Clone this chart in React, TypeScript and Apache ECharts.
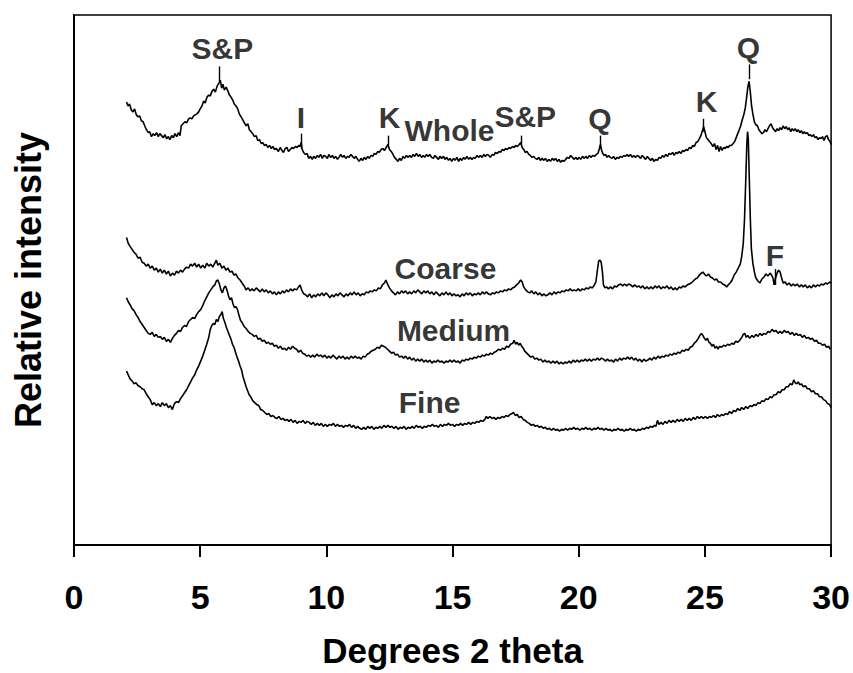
import React, { useEffect, useRef } from "react";
import * as echarts from "echarts";

// X-ray diffraction traces: [degrees 2 theta, relative intensity (arbitrary units)]
const whole: number[][] = [[2.08,448],[2.14,444],[2.2,446],[2.27,440],[2.34,438],[2.4,441],[2.47,435],[2.54,433],[2.6,434],[2.67,429],[2.74,428],[2.8,424],[2.87,420],[2.94,417],[3.0,418],[3.07,413],[3.14,416],[3.2,414],[3.27,417],[3.34,413],[3.4,416],[3.47,414],[3.54,412],[3.6,415],[3.67,411],[3.74,413],[3.8,410],[3.87,414],[3.94,412],[4.0,416],[4.07,413],[4.14,417],[4.2,414],[4.25,424],[4.32,426],[4.4,428],[4.47,427],[4.54,431],[4.6,432],[4.67,431],[4.74,434],[4.8,435],[4.87,436],[4.94,438],[5.0,441],[5.07,444],[5.14,449],[5.2,447],[5.27,453],[5.34,455],[5.4,454],[5.47,459],[5.54,461],[5.6,458],[5.67,464],[5.74,467],[5.8,470],[5.85,462],[5.9,466],[5.96,460],[6.03,463],[6.1,459],[6.16,455],[6.22,453],[6.29,450],[6.35,446],[6.42,444],[6.49,441],[6.55,436],[6.62,433],[6.69,430],[6.75,427],[6.82,424],[6.89,426],[6.95,420],[7.02,418],[7.08,416],[7.15,413],[7.22,414],[7.28,409],[7.35,410],[7.42,406],[7.48,407],[7.55,404],[7.62,405],[7.68,402],[7.75,404],[7.82,401],[7.88,403],[7.95,400],[8.02,401],[8.1,398],[8.17,402],[8.24,399],[8.3,397],[8.37,401],[8.44,402],[8.5,398],[8.57,400],[8.64,402],[8.7,401],[8.77,403],[8.84,402],[8.9,404],[8.96,403],[9.0,407],[9.04,400],[9.1,397],[9.17,395],[9.24,396],[9.3,391],[9.37,393],[9.44,390],[9.5,393],[9.57,391],[9.64,394],[9.7,392],[9.77,395],[9.84,391],[9.9,394],[9.97,393],[10.04,391],[10.1,395],[10.17,392],[10.24,394],[10.3,391],[10.37,393],[10.44,390],[10.5,392],[10.57,395],[10.64,392],[10.7,394],[10.77,391],[10.84,393],[10.9,392],[10.97,395],[11.04,393],[11.1,391],[11.17,393],[11.24,390],[11.3,388],[11.37,391],[11.44,389],[11.5,392],[11.57,390],[11.64,393],[11.7,391],[11.77,394],[11.84,393],[11.9,396],[11.97,395],[12.04,398],[12.1,397],[12.17,400],[12.24,401],[12.3,399],[12.37,402],[12.44,405],[12.5,400],[12.57,398],[12.64,395],[12.7,392],[12.77,390],[12.84,388],[12.9,391],[12.97,389],[13.04,393],[13.1,391],[13.17,394],[13.24,392],[13.3,394],[13.37,392],[13.44,395],[13.5,393],[13.57,396],[13.64,393],[13.7,395],[13.77,392],[13.84,394],[13.9,392],[13.97,395],[14.04,393],[14.1,395],[14.17,392],[14.24,391],[14.3,394],[14.37,392],[14.44,390],[14.5,393],[14.57,391],[14.64,393],[14.7,390],[14.77,392],[14.84,389],[14.9,391],[14.97,388],[15.04,391],[15.1,389],[15.17,392],[15.24,388],[15.3,391],[15.37,389],[15.44,392],[15.5,390],[15.57,393],[15.64,390],[15.7,392],[15.77,390],[15.84,392],[15.9,391],[15.97,394],[16.04,392],[16.1,394],[16.17,392],[16.24,395],[16.3,393],[16.37,395],[16.44,394],[16.5,392],[16.57,395],[16.64,394],[16.7,397],[16.77,396],[16.84,398],[16.9,397],[16.97,400],[17.04,399],[17.1,401],[17.17,400],[17.24,402],[17.3,401],[17.37,403],[17.44,402],[17.5,404],[17.57,403],[17.64,405],[17.7,407],[17.76,402],[17.82,400],[17.88,397],[17.95,398],[18.02,395],[18.08,394],[18.15,392],[18.22,393],[18.28,391],[18.35,390],[18.42,392],[18.48,389],[18.55,391],[18.62,389],[18.68,391],[18.75,388],[18.82,390],[18.88,388],[18.95,391],[19.02,389],[19.08,391],[19.15,388],[19.22,390],[19.28,387],[19.35,389],[19.42,388],[19.48,390],[19.55,392],[19.62,391],[19.68,394],[19.75,392],[19.82,390],[19.88,392],[19.95,390],[20.02,392],[20.08,390],[20.15,393],[20.22,391],[20.28,393],[20.35,391],[20.42,394],[20.48,392],[20.55,394],[20.62,393],[20.7,395],[20.76,396],[20.82,401],[20.86,405],[20.9,400],[20.95,396],[21.0,394],[21.06,395],[21.12,392],[21.18,394],[21.25,392],[21.32,391],[21.38,393],[21.45,390],[21.52,392],[21.58,391],[21.65,393],[21.72,392],[21.78,394],[21.85,393],[21.92,395],[21.98,393],[22.05,395],[22.12,392],[22.18,394],[22.25,392],[22.32,394],[22.38,393],[22.45,391],[22.52,394],[22.58,392],[22.65,390],[22.72,393],[22.78,391],[22.85,389],[22.92,391],[22.98,388],[23.05,390],[23.12,389],[23.18,392],[23.25,391],[23.32,394],[23.38,392],[23.45,395],[23.52,393],[23.58,396],[23.65,395],[23.72,397],[23.78,394],[23.85,397],[23.92,396],[23.98,398],[24.05,396],[24.12,399],[24.18,398],[24.25,400],[24.32,399],[24.38,402],[24.45,401],[24.52,404],[24.58,403],[24.65,407],[24.72,408],[24.78,411],[24.84,414],[24.9,419],[24.95,423],[25.0,418],[25.06,412],[25.12,410],[25.18,408],[25.25,406],[25.32,403],[25.38,406],[25.44,400],[25.5,404],[25.56,398],[25.62,403],[25.68,399],[25.74,402],[25.8,401],[25.86,403],[25.92,402],[25.98,404],[26.05,404],[26.12,406],[26.18,408],[26.24,412],[26.3,416],[26.36,420],[26.42,424],[26.48,430],[26.54,435],[26.6,442],[26.65,452],[26.7,463],[26.75,469],[26.8,458],[26.85,444],[26.9,436],[26.96,428],[27.02,425],[27.08,424],[27.14,420],[27.2,418],[27.26,416],[27.32,417],[27.38,420],[27.44,418],[27.5,421],[27.56,424],[27.62,426],[27.68,422],[27.74,420],[27.8,418],[27.86,421],[27.92,419],[27.98,422],[28.04,420],[28.1,424],[28.16,421],[28.22,423],[28.28,420],[28.34,422],[28.4,418],[28.46,421],[28.52,419],[28.58,421],[28.64,418],[28.7,420],[28.76,417],[28.82,419],[28.88,416],[28.94,418],[29.0,416],[29.06,417],[29.12,414],[29.18,415],[29.24,413],[29.3,415],[29.36,412],[29.42,413],[29.48,410],[29.54,412],[29.6,411],[29.66,413],[29.72,409],[29.78,413],[29.84,414],[29.9,410],[29.96,408],[30.0,405]];

const coarse: number[][] = [[2.08,311],[2.15,305],[2.22,302],[2.3,299],[2.38,296],[2.46,294],[2.54,290],[2.62,291],[2.7,286],[2.78,285],[2.86,282],[2.94,284],[3.02,280],[3.1,282],[3.18,278],[3.26,280],[3.34,276],[3.42,279],[3.5,275],[3.58,278],[3.66,274],[3.74,277],[3.82,272],[3.9,275],[3.98,273],[4.06,277],[4.14,275],[4.22,278],[4.3,276],[4.38,279],[4.46,281],[4.54,280],[4.62,284],[4.7,282],[4.78,285],[4.86,281],[4.94,284],[5.02,280],[5.1,283],[5.18,280],[5.26,285],[5.34,282],[5.42,284],[5.5,281],[5.58,285],[5.64,288],[5.7,283],[5.78,285],[5.86,280],[5.94,282],[6.02,278],[6.1,280],[6.18,276],[6.26,277],[6.34,273],[6.42,274],[6.5,270],[6.58,268],[6.66,265],[6.74,262],[6.82,258],[6.9,260],[6.98,257],[7.06,259],[7.14,257],[7.22,260],[7.3,258],[7.38,256],[7.46,259],[7.54,256],[7.62,258],[7.7,255],[7.78,257],[7.86,254],[7.94,256],[8.02,253],[8.1,256],[8.18,254],[8.26,257],[8.34,255],[8.42,258],[8.5,256],[8.58,259],[8.66,257],[8.74,259],[8.82,258],[8.9,261],[8.96,263],[9.02,258],[9.1,254],[9.18,253],[9.26,251],[9.34,254],[9.42,250],[9.5,253],[9.58,251],[9.66,254],[9.74,252],[9.82,255],[9.9,252],[9.98,255],[10.06,253],[10.14,250],[10.22,253],[10.3,251],[10.38,254],[10.46,252],[10.54,255],[10.62,253],[10.7,251],[10.78,254],[10.86,252],[10.94,255],[11.02,253],[11.1,256],[11.18,253],[11.26,255],[11.34,252],[11.42,254],[11.5,253],[11.58,256],[11.66,255],[11.74,257],[11.82,256],[11.9,258],[11.98,257],[12.06,260],[12.14,259],[12.22,263],[12.3,265],[12.36,268],[12.42,264],[12.5,260],[12.58,257],[12.66,255],[12.74,253],[12.82,256],[12.9,254],[12.98,257],[13.06,255],[13.14,257],[13.22,254],[13.3,256],[13.38,254],[13.46,257],[13.54,255],[13.62,258],[13.7,256],[13.78,254],[13.86,257],[13.94,255],[14.02,257],[14.1,254],[14.18,256],[14.26,253],[14.34,256],[14.42,254],[14.5,252],[14.58,255],[14.66,253],[14.74,256],[14.82,253],[14.9,255],[14.98,252],[15.06,254],[15.14,252],[15.22,253],[15.3,251],[15.38,254],[15.46,252],[15.54,255],[15.62,253],[15.7,255],[15.78,252],[15.86,254],[15.94,253],[16.02,255],[16.1,253],[16.18,256],[16.26,254],[16.34,256],[16.42,254],[16.5,253],[16.58,255],[16.66,254],[16.74,256],[16.82,255],[16.9,257],[16.98,256],[17.06,258],[17.14,257],[17.22,259],[17.3,258],[17.38,260],[17.46,261],[17.54,263],[17.62,265],[17.7,268],[17.76,266],[17.82,261],[17.9,258],[17.98,256],[18.06,255],[18.14,257],[18.22,254],[18.3,256],[18.38,253],[18.46,255],[18.54,252],[18.62,254],[18.7,252],[18.78,253],[18.86,255],[18.94,253],[19.02,256],[19.1,254],[19.18,256],[19.26,255],[19.34,257],[19.42,256],[19.5,258],[19.58,257],[19.66,259],[19.74,257],[19.82,258],[19.9,257],[19.98,259],[20.06,257],[20.14,259],[20.22,258],[20.3,260],[20.38,259],[20.46,261],[20.54,260],[20.62,263],[20.68,266],[20.74,278],[20.79,287],[20.84,288],[20.89,286],[20.94,276],[20.98,263],[21.04,260],[21.1,261],[21.18,259],[21.26,261],[21.34,259],[21.42,262],[21.5,261],[21.58,263],[21.66,264],[21.74,262],[21.82,264],[21.9,262],[21.98,264],[22.06,263],[22.14,261],[22.22,263],[22.3,261],[22.38,262],[22.46,260],[22.54,262],[22.62,259],[22.7,261],[22.78,259],[22.86,261],[22.94,259],[23.02,262],[23.1,260],[23.18,262],[23.26,259],[23.34,261],[23.42,260],[23.5,262],[23.58,259],[23.66,261],[23.74,258],[23.82,260],[23.9,258],[23.98,261],[24.06,260],[24.14,262],[24.22,261],[24.3,263],[24.38,264],[24.46,265],[24.54,267],[24.62,269],[24.7,270],[24.78,273],[24.86,275],[24.92,276],[24.98,274],[25.06,272],[25.14,274],[25.22,271],[25.3,270],[25.38,268],[25.46,269],[25.54,266],[25.62,266],[25.7,264],[25.78,263],[25.86,261],[25.92,263],[26.0,265],[26.08,268],[26.16,273],[26.24,276],[26.32,280],[26.4,284],[26.46,292],[26.52,305],[26.57,330],[26.62,370],[26.66,405],[26.69,418],[26.72,410],[26.76,370],[26.8,330],[26.84,300],[26.9,285],[26.96,276],[27.02,270],[27.1,267],[27.18,265],[27.26,269],[27.34,271],[27.42,274],[27.5,272],[27.58,275],[27.64,273],[27.7,270],[27.74,263],[27.8,270],[27.86,275],[27.92,278],[27.98,276],[28.04,270],[28.1,265],[28.18,266],[28.26,263],[28.34,265],[28.42,262],[28.5,264],[28.58,262],[28.66,264],[28.74,261],[28.82,263],[28.9,261],[28.98,263],[29.06,260],[29.14,262],[29.22,260],[29.3,263],[29.38,261],[29.46,263],[29.54,262],[29.62,264],[29.7,263],[29.78,265],[29.86,264],[29.94,266],[30.0,265]];

const medium: number[][] = [[2.08,250],[2.15,246],[2.22,243],[2.3,239],[2.38,237],[2.46,233],[2.54,230],[2.62,226],[2.7,223],[2.78,220],[2.86,217],[2.94,214],[3.02,213],[3.1,215],[3.18,211],[3.26,213],[3.34,210],[3.42,211],[3.5,208],[3.58,210],[3.66,206],[3.74,208],[3.82,205],[3.9,209],[3.98,212],[4.06,214],[4.14,217],[4.22,216],[4.3,220],[4.38,222],[4.46,221],[4.54,226],[4.62,228],[4.7,230],[4.78,229],[4.86,233],[4.94,236],[5.02,238],[5.1,242],[5.18,247],[5.26,251],[5.34,255],[5.42,258],[5.5,261],[5.58,263],[5.64,267],[5.7,268],[5.76,264],[5.82,258],[5.88,255],[5.94,260],[6.0,262],[6.06,258],[6.12,252],[6.18,248],[6.24,250],[6.3,244],[6.36,240],[6.42,241],[6.48,238],[6.54,232],[6.6,227],[6.66,225],[6.74,221],[6.82,219],[6.9,216],[6.98,214],[7.06,213],[7.14,211],[7.22,212],[7.3,208],[7.38,209],[7.46,206],[7.54,207],[7.62,204],[7.7,205],[7.78,203],[7.86,204],[7.94,201],[8.02,202],[8.1,199],[8.18,201],[8.26,198],[8.34,199],[8.42,197],[8.5,200],[8.58,198],[8.66,201],[8.74,199],[8.82,198],[8.9,195],[8.98,197],[9.06,194],[9.14,193],[9.22,191],[9.3,192],[9.38,190],[9.46,192],[9.54,190],[9.62,193],[9.7,191],[9.78,192],[9.86,190],[9.94,192],[10.02,189],[10.1,191],[10.18,189],[10.26,192],[10.34,190],[10.42,188],[10.5,191],[10.58,189],[10.66,191],[10.74,188],[10.82,190],[10.9,188],[10.98,191],[11.06,189],[11.14,191],[11.22,189],[11.3,190],[11.38,188],[11.46,191],[11.54,190],[11.62,193],[11.7,194],[11.78,196],[11.86,197],[11.94,198],[12.02,200],[12.1,199],[12.18,202],[12.26,201],[12.34,200],[12.42,198],[12.5,196],[12.58,194],[12.66,195],[12.74,192],[12.82,193],[12.9,190],[12.98,191],[13.06,189],[13.14,191],[13.22,188],[13.3,190],[13.38,187],[13.46,189],[13.54,186],[13.62,188],[13.7,186],[13.78,188],[13.86,185],[13.94,187],[14.02,185],[14.1,187],[14.18,184],[14.26,186],[14.34,185],[14.42,187],[14.5,185],[14.58,186],[14.66,184],[14.74,186],[14.82,185],[14.9,187],[14.98,185],[15.06,187],[15.14,185],[15.22,186],[15.3,184],[15.38,187],[15.46,186],[15.54,188],[15.62,187],[15.7,189],[15.78,188],[15.86,190],[15.94,189],[16.02,191],[16.1,190],[16.18,192],[16.26,191],[16.34,193],[16.42,192],[16.5,194],[16.58,193],[16.66,195],[16.74,196],[16.82,198],[16.9,197],[16.98,199],[17.06,198],[17.14,201],[17.22,200],[17.3,203],[17.38,204],[17.44,207],[17.5,203],[17.56,205],[17.62,202],[17.68,204],[17.74,201],[17.8,199],[17.86,196],[17.94,194],[18.02,192],[18.1,190],[18.18,191],[18.26,188],[18.34,189],[18.42,187],[18.5,188],[18.58,185],[18.66,187],[18.74,185],[18.82,186],[18.9,184],[18.98,186],[19.06,184],[19.14,186],[19.22,183],[19.3,185],[19.38,183],[19.46,185],[19.54,184],[19.62,186],[19.7,184],[19.78,187],[19.86,185],[19.94,187],[20.02,185],[20.1,187],[20.18,186],[20.26,188],[20.34,186],[20.42,188],[20.5,186],[20.58,188],[20.66,187],[20.74,189],[20.82,187],[20.9,189],[20.98,188],[21.06,186],[21.14,188],[21.22,186],[21.3,187],[21.38,185],[21.46,188],[21.54,186],[21.62,189],[21.7,187],[21.78,189],[21.86,188],[21.94,190],[22.02,188],[22.1,190],[22.18,187],[22.26,189],[22.34,186],[22.42,188],[22.5,185],[22.58,188],[22.66,186],[22.74,187],[22.82,189],[22.9,187],[22.98,190],[23.06,188],[23.14,191],[23.22,189],[23.3,191],[23.38,190],[23.46,192],[23.54,191],[23.62,193],[23.7,192],[23.78,194],[23.86,193],[23.94,195],[24.02,194],[24.1,197],[24.18,196],[24.26,198],[24.34,197],[24.42,200],[24.5,201],[24.58,204],[24.66,206],[24.74,209],[24.8,212],[24.86,214],[24.92,212],[24.98,209],[25.04,207],[25.1,209],[25.16,205],[25.22,204],[25.28,201],[25.34,203],[25.4,199],[25.46,201],[25.52,198],[25.58,201],[25.66,200],[25.74,202],[25.82,201],[25.9,203],[25.98,202],[26.06,204],[26.14,203],[26.22,206],[26.3,205],[26.38,207],[26.46,210],[26.52,213],[26.58,214],[26.64,210],[26.7,212],[26.78,209],[26.86,212],[26.94,210],[27.02,213],[27.1,211],[27.18,214],[27.26,212],[27.34,214],[27.42,213],[27.5,216],[27.58,215],[27.66,218],[27.74,216],[27.82,217],[27.9,214],[27.98,216],[28.06,214],[28.14,217],[28.22,215],[28.3,216],[28.38,213],[28.46,215],[28.54,212],[28.62,214],[28.7,212],[28.78,213],[28.86,210],[28.94,212],[29.02,209],[29.1,210],[29.18,208],[29.26,209],[29.34,206],[29.42,207],[29.5,204],[29.58,204],[29.66,202],[29.74,203],[29.82,200],[29.9,201],[29.97,198]];

const fine: number[][] = [[2.08,176],[2.15,172],[2.22,168],[2.3,166],[2.38,163],[2.46,164],[2.54,161],[2.62,160],[2.7,158],[2.78,157],[2.86,153],[2.94,150],[3.02,147],[3.1,142],[3.18,144],[3.26,141],[3.34,143],[3.42,140],[3.5,144],[3.58,141],[3.66,143],[3.74,139],[3.82,141],[3.9,137],[3.98,143],[4.06,145],[4.14,144],[4.22,148],[4.3,151],[4.38,154],[4.46,157],[4.54,161],[4.62,165],[4.7,169],[4.78,172],[4.86,177],[4.94,181],[5.02,186],[5.1,191],[5.18,197],[5.26,203],[5.34,210],[5.4,218],[5.46,222],[5.52,224],[5.58,223],[5.64,228],[5.7,226],[5.76,231],[5.82,233],[5.87,236],[5.92,229],[5.98,225],[6.04,220],[6.1,216],[6.16,212],[6.22,208],[6.28,203],[6.34,200],[6.4,195],[6.46,190],[6.52,186],[6.58,181],[6.64,177],[6.7,170],[6.76,165],[6.82,160],[6.88,156],[6.94,152],[7.0,150],[7.08,146],[7.16,144],[7.24,142],[7.32,141],[7.4,137],[7.48,136],[7.56,134],[7.64,132],[7.72,133],[7.8,130],[7.88,131],[7.96,129],[8.04,128],[8.12,130],[8.2,127],[8.28,128],[8.36,126],[8.44,127],[8.52,125],[8.6,127],[8.68,124],[8.76,126],[8.84,123],[8.92,125],[9.0,124],[9.08,126],[9.16,123],[9.24,125],[9.32,124],[9.4,122],[9.48,124],[9.56,121],[9.64,123],[9.72,121],[9.8,123],[9.88,120],[9.96,122],[10.04,120],[10.12,122],[10.2,121],[10.28,123],[10.36,120],[10.44,122],[10.52,120],[10.6,121],[10.68,119],[10.76,121],[10.84,120],[10.92,122],[11.0,119],[11.08,121],[11.16,118],[11.24,120],[11.32,118],[11.4,117],[11.48,119],[11.56,117],[11.64,120],[11.72,118],[11.8,120],[11.88,117],[11.96,119],[12.04,118],[12.12,120],[12.2,118],[12.28,121],[12.36,119],[12.44,121],[12.52,119],[12.6,120],[12.68,118],[12.76,120],[12.84,117],[12.92,119],[13.0,118],[13.08,120],[13.16,117],[13.24,119],[13.32,118],[13.4,120],[13.48,118],[13.56,121],[13.64,119],[13.72,120],[13.8,118],[13.88,120],[13.96,119],[14.04,121],[14.12,120],[14.2,122],[14.28,120],[14.36,121],[14.44,119],[14.52,122],[14.6,120],[14.68,122],[14.76,121],[14.84,123],[14.92,121],[15.0,122],[15.08,120],[15.16,122],[15.24,121],[15.32,123],[15.4,121],[15.48,123],[15.56,122],[15.64,124],[15.72,122],[15.8,124],[15.88,123],[15.96,125],[16.04,124],[16.12,126],[16.2,125],[16.28,127],[16.34,130],[16.4,128],[16.48,130],[16.56,128],[16.64,129],[16.72,127],[16.8,129],[16.88,128],[16.96,130],[17.04,129],[17.12,131],[17.2,130],[17.28,132],[17.36,133],[17.42,134],[17.48,131],[17.56,132],[17.64,129],[17.72,130],[17.8,127],[17.88,126],[17.96,124],[18.04,123],[18.12,121],[18.2,122],[18.28,120],[18.36,121],[18.44,119],[18.52,120],[18.6,118],[18.68,119],[18.76,117],[18.84,118],[18.92,116],[19.0,118],[19.08,116],[19.16,117],[19.24,115],[19.32,117],[19.4,116],[19.48,118],[19.56,116],[19.64,118],[19.72,117],[19.8,119],[19.88,117],[19.96,118],[20.04,116],[20.12,118],[20.2,117],[20.28,119],[20.36,117],[20.44,118],[20.52,116],[20.6,118],[20.68,117],[20.76,119],[20.84,117],[20.92,118],[21.0,116],[21.08,118],[21.16,116],[21.24,117],[21.32,115],[21.4,117],[21.48,116],[21.56,118],[21.64,116],[21.72,117],[21.8,115],[21.88,117],[21.96,116],[22.04,118],[22.12,116],[22.2,117],[22.28,115],[22.36,117],[22.44,116],[22.52,118],[22.6,117],[22.68,119],[22.76,118],[22.84,120],[22.92,119],[23.0,121],[23.06,120],[23.12,126],[23.18,122],[23.26,124],[23.34,122],[23.42,125],[23.5,123],[23.58,126],[23.66,124],[23.74,126],[23.82,124],[23.9,127],[23.98,125],[24.06,127],[24.14,125],[24.22,128],[24.3,126],[24.38,128],[24.46,126],[24.54,129],[24.62,127],[24.7,130],[24.78,128],[24.86,130],[24.94,128],[25.02,130],[25.1,128],[25.18,130],[25.26,129],[25.34,131],[25.42,129],[25.5,132],[25.58,130],[25.66,132],[25.74,131],[25.82,133],[25.9,132],[25.98,135],[26.06,133],[26.14,136],[26.22,135],[26.3,138],[26.38,136],[26.46,139],[26.54,137],[26.62,140],[26.7,138],[26.78,141],[26.86,140],[26.94,142],[27.02,141],[27.1,144],[27.18,143],[27.26,146],[27.34,145],[27.42,148],[27.5,147],[27.58,150],[27.66,149],[27.74,152],[27.82,152],[27.9,155],[27.98,154],[28.06,157],[28.14,157],[28.22,160],[28.3,160],[28.38,163],[28.46,162],[28.52,167],[28.58,164],[28.64,163],[28.7,165],[28.76,162],[28.82,163],[28.9,160],[28.98,161],[29.06,158],[29.14,158],[29.22,155],[29.3,156],[29.38,153],[29.46,153],[29.54,150],[29.62,150],[29.7,147],[29.78,146],[29.86,143],[29.94,142],[30.0,139]];

// Peak / trace annotations
const labelNames = ["S&P", "I", "K", "Whole", "S&P", "Q", "K", "Q", "Coarse", "F", "Medium", "Fine"];
const labelX = [5.88, 8.99, 12.5, 14.88, 17.88, 20.84, 25.07, 26.72, 14.72, 27.77, 15.04, 14.09];
const labelY = [502, 432, 432, 419, 433, 431, 449, 503, 280, 293, 217, 144];

// Vertical marker lines from labels down to peaks
const tickX = [5.76, 8.99, 12.45, 17.71, 20.87, 24.95, 26.75, 27.77];
const tickTop = [484, 416, 414, 414, 414, 431, 486, 279];
const tickBottom = [469, 401, 404, 405, 403, 418, 471, 263];

const xTicks = [0, 5, 10, 15, 20, 25, 30];

const FONT = "'Liberation Sans', Arial, Helvetica, sans-serif";

export default function App() {
  const ref = useRef<HTMLDivElement>(null);
  useEffect(() => {
    if (!ref.current) return;
    const chart = echarts.init(ref.current, undefined, { renderer: "svg" });
    const traceStyle = { color: "#000", width: 1.6 };
    const mkTrace = (name: string, data: number[][]) => ({
      name,
      type: "line",
      data,
      showSymbol: false,
      symbol: "none",
      lineStyle: traceStyle,
      silent: true,
      z: 3,
    });
    chart.setOption({
      animation: false,
      backgroundColor: "#fff",
      grid: {
        left: 74,
        right: 19,
        top: 15,
        bottom: 122,
        show: true,
        borderColor: "#000",
        borderWidth: 1.5,
        backgroundColor: "transparent",
      },
      xAxis: {
        type: "value",
        min: xTicks[0],
        max: xTicks[xTicks.length - 1],
        interval: 5,
        splitLine: { show: false },
        axisLine: { show: true, lineStyle: { color: "#000", width: 2 } },
        axisTick: { show: true, inside: false, length: 12, lineStyle: { color: "#000", width: 2 } },
        axisLabel: {
          color: "#000",
          fontSize: 34,
          fontWeight: "bold",
          fontFamily: FONT,
          margin: 35,
        },
        name: "Degrees 2 theta",
        nameLocation: "middle",
        nameGap: 88,
        nameTextStyle: { color: "#000", fontSize: 35, fontWeight: "bold", fontFamily: FONT },
      },
      yAxis: {
        type: "value",
        min: 0,
        max: 536,
        splitLine: { show: false },
        axisLine: { show: true, lineStyle: { color: "#000", width: 2 } },
        axisTick: { show: false },
        axisLabel: { show: false },
        name: "Relative intensity",
        nameLocation: "middle",
        nameRotate: 90,
        nameGap: 28,
        nameTextStyle: { color: "#000", fontSize: 36, fontWeight: "bold", fontFamily: FONT },
      },
      series: [
        mkTrace("Whole", whole),
        mkTrace("Coarse", coarse),
        mkTrace("Medium", medium),
        mkTrace("Fine", fine),
        {
          name: "labels",
          type: "scatter",
          symbolSize: 0,
          silent: true,
          data: labelNames.map((n, i) => ({ name: n, value: [labelX[i], labelY[i]] })),
          label: {
            show: true,
            position: "inside",
            formatter: "{b}",
            color: "#000",
            fontSize: 30,
            fontWeight: "bold",
            fontFamily: FONT,
          },
          markLine: {
            silent: true,
            symbol: ["none", "none"],
            label: { show: false },
            lineStyle: { color: "#000", width: 1.4, type: "solid" },
            data: tickX.map((x, i) => [
              { coord: [x, tickTop[i]] },
              { coord: [x, tickBottom[i]] },
            ]),
          },
          z: 4,
        },
      ],
    });
    return () => chart.dispose();
  }, []);
  return (
    <div
      ref={ref}
      style={{ position: "absolute", left: 0, top: 0, width: 853, height: 673 }}
    />
  );
}
